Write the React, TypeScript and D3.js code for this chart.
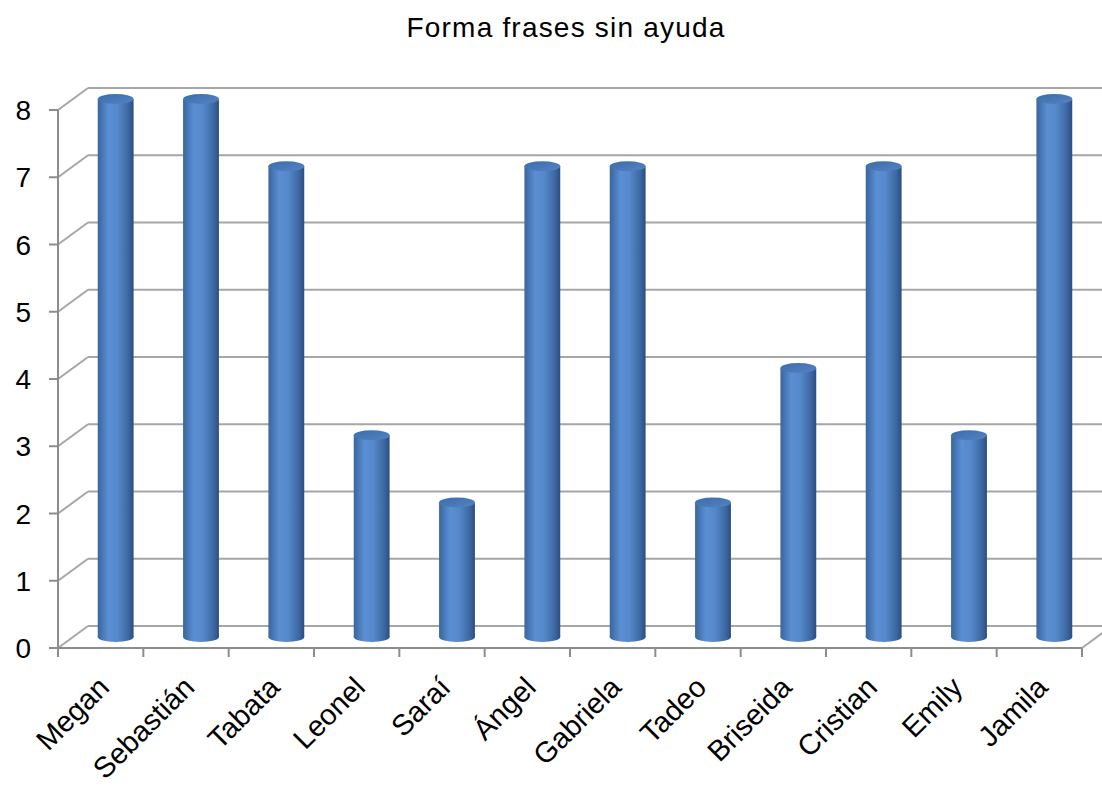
import React from 'react';
import * as d3 from 'd3';

const names = ['Megan', 'Sebastián', 'Tabata', 'Leonel', 'Saraí', 'Ángel', 'Gabriela', 'Tadeo', 'Briseida', 'Cristian', 'Emily', 'Jamila'];
const values = [8, 8, 7, 3, 2, 7, 7, 2, 4, 7, 3, 8];
const yTicks = [0, 1, 2, 3, 4, 5, 6, 7, 8];
const title = 'Forma frases sin ayuda';

const App = () => {
    const width = 1102, height = 787;
    const left = 58, right = 1082, bottom = 648, top = 110;
    // depth offset of the back wall
    const dx = 30, dy = -22;

    const x = d3.scaleBand<string>()
        .domain(names)
        .range([left, right]);

    const y = d3.scaleLinear()
        .domain([0, 8])
        .range([bottom, top]);

    const bw = x.bandwidth() * 0.42;
    const ry = 5;
    const font = '"Liberation Sans", Arial, sans-serif';

    return (
        <svg width={width} height={height} style={{ display: 'block', position: 'absolute', left: 0, top: 0 }}>
            <defs>
                <linearGradient id="body" x1="0" x2="1" y1="0" y2="0">
                    <stop offset="0%" stopColor="#3a659f" />
                    <stop offset="30%" stopColor="#5a8fd2" />
                    <stop offset="55%" stopColor="#5589cb" />
                    <stop offset="85%" stopColor="#3d68a3" />
                    <stop offset="100%" stopColor="#2c4d7d" />
                </linearGradient>
                <linearGradient id="cap" x1="0" x2="1" y1="0" y2="1">
                    <stop offset="0%" stopColor="#3d6cab" />
                    <stop offset="100%" stopColor="#5383c2" />
                </linearGradient>
            </defs>

            <text x={566} y={37} textAnchor="middle" fontFamily={font} fontSize={28} letterSpacing={1.2} fill="#000">{title}</text>

            {/* back wall gridlines and left wall diagonals */}
            {yTicks.map(t => (
                <g key={'g' + t}>
                    <line x1={left} y1={y(t)} x2={left + dx} y2={y(t) + dy} stroke="#a6a6a6" strokeWidth={2} />
                    <line x1={left + dx} y1={y(t) + dy} x2={right + dx} y2={y(t) + dy} stroke="#a6a6a6" strokeWidth={2} />
                </g>
            ))}
            <line x1={right} y1={bottom} x2={right + dx} y2={bottom + dy} stroke="#a6a6a6" strokeWidth={2} />

            {/* axes */}
            <line x1={left} y1={top} x2={left} y2={bottom} stroke="#8c8c8c" strokeWidth={2} />
            <line x1={left} y1={bottom} x2={right} y2={bottom} stroke="#8c8c8c" strokeWidth={2} />
            {yTicks.map(t => (
                <g key={'t' + t}>
                    <line x1={left - 9} y1={y(t)} x2={left} y2={y(t)} stroke="#8c8c8c" strokeWidth={2} />
                    <text x={31} y={y(t)} dy="0.36em" textAnchor="end" fontFamily={font} fontSize={28} fill="#000">{t}</text>
                </g>
            ))}
            {names.concat(['']).map((n, i) => {
                const xx = left + i * x.step();
                return <line key={'xt' + i} x1={xx} y1={bottom} x2={xx} y2={bottom + 9} stroke="#8c8c8c" strokeWidth={2} />;
            })}

            {/* cylinders */}
            {names.map((n, i) => {
                const cx = (x(n) as number) + x.bandwidth() / 2 + dx / 2;
                const y0 = y(0) + dy / 2;
                const y1 = y(values[i]) + dy / 2;
                return (
                    <g key={'b' + n}>
                        <rect x={cx - bw / 2} y={y1} width={bw} height={y0 - y1} fill="url(#body)" />
                        <ellipse cx={cx} cy={y0} rx={bw / 2} ry={ry} fill="url(#body)" />
                        <ellipse cx={cx} cy={y1} rx={bw / 2} ry={ry} fill="url(#cap)" />
                    </g>
                );
            })}

            {/* category labels */}
            {names.map(n => {
                const lx = (x(n) as number) + x.bandwidth() / 2 + 3;
                const ly = 682;
                return (
                    <text key={'l' + n} transform={`translate(${lx},${ly}) rotate(-45)`} textAnchor="end" dy="0.35em"
                        fontFamily={font} fontSize={29} fill="#000">{n}</text>
                );
            })}
        </svg>
    );
};

export default App;
